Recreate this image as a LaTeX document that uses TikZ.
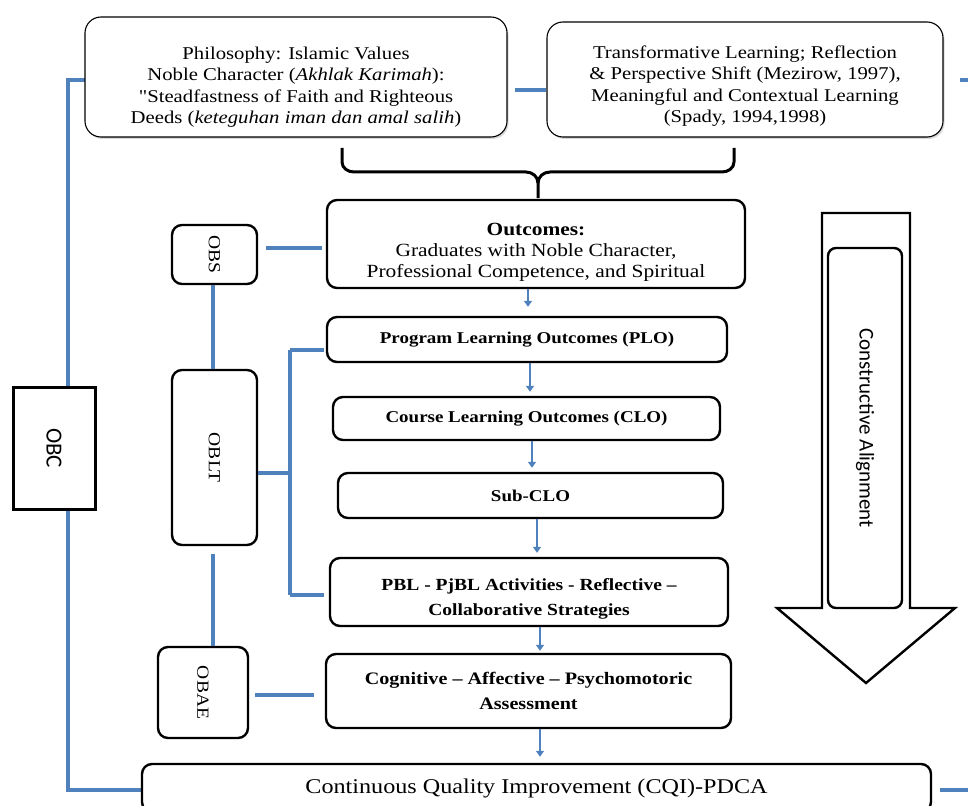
\documentclass[tikz,border=0pt]{standalone}
\usepackage{fontspec}
\setmainfont{Liberation Serif}[FakeStretch=1.15, Ligatures=TeXOff]
\newfontfamily\carl{Carlito}
\usetikzlibrary{arrows.meta,shadows}
\definecolor{cblue}{RGB}{79,129,189}
\tikzset{
  tbox/.style={draw=black, line width=1.1pt, rounded corners=16pt, fill=white, align=center, inner sep=0pt, font=\fontsize{18}{21.5}\selectfont, drop shadow={opacity=0.3, shadow xshift=1.5pt, shadow yshift=-2pt}},
  mbox/.style={draw=black, line width=2.4pt, rounded corners=10pt, fill=white, align=center, inner sep=0pt},
  sidebox/.style={draw=black, line width=2.4pt, rounded corners=10pt, fill=white, inner sep=0pt, font=\fontsize{17}{18}\selectfont},
  bl/.style={draw=cblue, line width=3.5pt},
  arr/.style={draw=cblue, line width=2.5pt, -{Triangle[width=8pt,length=6pt]}},
  bold/.style={font=\bfseries\fontsize{16.5}{25}\selectfont}
}
\begin{document}
\begin{tikzpicture}[x=1pt,y=-1pt]
\clip (0,0) rectangle (968,805);
\fill[white] (0,0) rectangle (968,805);
% named coordinates for connector bends
\coordinate (lt) at (68,80);
\coordinate (lb) at (68,790);
\coordinate (rs1) at (960,80);
\coordinate (re1) at (968,80);
\coordinate (rs2) at (940,790);
\coordinate (re2) at (968,790);
\coordinate (bx) at (290,473);
\coordinate (bxt) at (290,350);
\coordinate (bxb) at (290,595);
% blue lines behind boxes
\draw[bl] (93,80) -- (lt) -- (lb) -- (142,790);
\draw[bl] (rs1) -- (re1);
\draw[bl] (rs2) -- (re2);
% top boxes
\node[tbox, minimum width=422, minimum height=120] (tl) at (296,77)
 {\rule{0pt}{33pt}Philosophy: Islamic Values\\ Noble Character (\textit{Akhlak Karimah}):\\ "Steadfastness of Faith and Righteous\\ Deeds (\textit{keteguhan iman dan amal salih})};
\node[tbox, minimum width=396, minimum height=115] (tr) at (745,79.5)
 {\rule{0pt}{26pt}Transformative Learning; Reflection\\ \& Perspective Shift (Mezirow, 1997),\\ Meaningful and Contextual Learning\\ (Spady, 1994,1998)};
\draw[bl] (515,90) -- (tr.west |- 0,90);
% brace
\draw[line width=3pt, line join=round] (342,148) -- (342,162) to[out=-90,in=180] (354,172) -- (526,172) to[out=0,in=90] (538,183) -- (538,198);
\draw[line width=3pt, line join=round] (538,183) to[out=90,in=180] (550,172) -- (722,172) to[out=0,in=-90] (734,162) -- (734,148);
% main column
\node[mbox, minimum width=418, minimum height=88, font=\fontsize{18.6}{21}\selectfont] (out) at (536,244)
 {\rule{0pt}{28pt}\textbf{Outcomes:}\\ Graduates with Noble Character,\\ Professional Competence, and Spiritual};
\node[mbox, bold, minimum width=400, minimum height=45] (plo) at (527,339.5) {Program Learning Outcomes (PLO)};
\node[mbox, bold, minimum width=387, minimum height=43] (clo) at (526.5,418.5) {Course Learning Outcomes (CLO)};
\node[mbox, bold, minimum width=385, minimum height=45] (sub) at (530.5,495.5) {Sub-CLO};
\node[mbox, minimum width=398, minimum height=68, font=\bfseries\fontsize{17}{25}\selectfont] (pbl) at (529,592) {\rule{0pt}{25pt}PBL - PjBL Activities - Reflective –\\ Collaborative Strategies};
\node[mbox, minimum width=405, minimum height=74, font=\bfseries\fontsize{17.5}{25}\selectfont] (cog) at (528.5,691) {Cognitive – Affective – Psychomotoric\\ Assessment};
\node[mbox, minimum width=789, minimum height=48, font=\fontsize{21}{22}\selectfont] (cqi) at (536.5,788) {Continuous Quality Improvement (CQI)-PDCA};
% arrows
\draw[arr] ([xshift=-8]out.south) -- ([xshift=1,yshift=9]plo.north);
\draw[arr] ([xshift=3]plo.south) -- ([xshift=3.5,yshift=4]clo.north);
\draw[arr] ([xshift=5.5]clo.south) -- ([xshift=1.5,yshift=4]sub.north);
\draw[arr] ([xshift=6.5]sub.south) -- ([xshift=8,yshift=4]pbl.north);
\draw[arr] ([xshift=11]pbl.south) -- ([xshift=11.5,yshift=2]cog.north);
\draw[arr] ([xshift=11.5]cog.south) -- ([xshift=3.5,yshift=6]cqi.north);
% side boxes
\node[sidebox, minimum width=85, minimum height=59] (obs) at (214.5,254.5) {\rotatebox{-90}{OBS}};
\node[sidebox, minimum width=85, minimum height=175] (oblt) at (214.5,457.5) {\rotatebox{-90}{OBLT}};
\node[sidebox, minimum width=90, minimum height=91] (obae) at (203,692.5) {\rotatebox{-90}{OBAE}};
\node[draw=black, line width=3pt, fill=white, minimum width=82, minimum height=122, inner sep=0pt, font=\carl\fontsize{23}{24}\selectfont] (obc) at (54,448) {\rotatebox{-90}{OBC}};
% side connectors
\draw[bl] ([xshift=8,yshift=6.5]obs.east) -- ([xshift=-4,yshift=-4]out.west);
\draw[bl] ([xshift=-1.5]obs.south) -- ([xshift=-1.5]oblt.north);
\draw[bl] ([xshift=-1.5,yshift=-8]oblt.south) -- (213,0 |- obae.north);
\draw[bl] ([yshift=-15.5]oblt.east) -- (bx);
\draw[bl] (bxt) -- (bxb);
\draw[bl] (bxt) -- ([xshift=-2,yshift=-10.5]plo.west);
\draw[bl] (bxb) -- ([xshift=-5,yshift=-3]pbl.west);
\draw[bl] ([xshift=6,yshift=-2.5]obae.east) -- ([xshift=-11,yshift=-4]cog.west);
% big arrow
\draw[line width=2.4pt, line join=miter, fill=white] (822,213) -- (910,213) -- (910,608) -- (955,608) -- (866,683) -- (777,608) -- (822,608) -- cycle;
\node[draw=black, line width=2.4pt, rounded corners=8pt, fill=white, minimum width=74, minimum height=360, inner sep=0pt, font=\carl\fontsize{21}{22}\selectfont] (ca) at (865,428) {\rotatebox{-90}{Constructive Alignment}};
\end{tikzpicture}
\end{document}
